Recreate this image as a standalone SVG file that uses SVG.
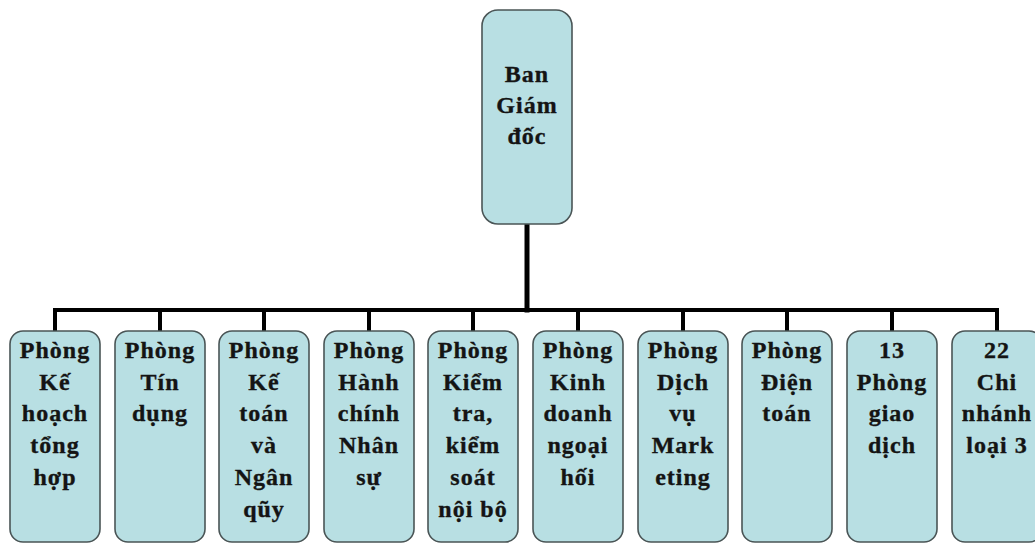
<svg xmlns="http://www.w3.org/2000/svg" width="1035" height="543" viewBox="0 0 1035 543">
  <style>
    .box { fill: #b8dfe3; stroke: #4a5556; stroke-width: 1.6; }
    .lbl { font-family: 'Liberation Serif', 'Times New Roman', serif; font-weight: 700; font-size: 24px; letter-spacing: 1px; fill: #141414; stroke: #141414; stroke-width: 0.35; text-anchor: middle; }
    .wire { stroke: #000; fill: none; stroke-linecap: square; }
  </style>
  <rect width="1035" height="543" fill="#ffffff"/>

  <!-- connectors -->
  <g id="connectors">
    <line class="wire" x1="527" y1="224" x2="527" y2="310" stroke-width="5"/>
    <line class="wire" x1="55" y1="310" x2="997" y2="310" stroke-width="4"/>
    <g stroke-width="4">
      <line class="wire" x1="55" y1="310" x2="55" y2="331"/>
      <line class="wire" x1="160" y1="310" x2="160" y2="331"/>
      <line class="wire" x1="264" y1="310" x2="264" y2="331"/>
      <line class="wire" x1="369" y1="310" x2="369" y2="331"/>
      <line class="wire" x1="473" y1="310" x2="473" y2="331"/>
      <line class="wire" x1="578" y1="310" x2="578" y2="331"/>
      <line class="wire" x1="683" y1="310" x2="683" y2="331"/>
      <line class="wire" x1="787" y1="310" x2="787" y2="331"/>
      <line class="wire" x1="892" y1="310" x2="892" y2="331"/>
      <line class="wire" x1="997" y1="310" x2="997" y2="331"/>
    </g>
  </g>

  <!-- top node -->
  <g id="ban-giam-doc">
    <rect class="box" x="482" y="10" width="90" height="214" rx="16"/>
    <text class="lbl" x="527" y="82">Ban</text>
    <text class="lbl" x="527" y="113">Giám</text>
    <text class="lbl" x="527" y="144">đốc</text>
  </g>

  <g id="ke-hoach">
    <rect class="box" x="10" y="331" width="90" height="211" rx="13"/>
    <text class="lbl" x="55" y="358">Phòng</text>
    <text class="lbl" x="55" y="390">Kế</text>
    <text class="lbl" x="55" y="421">hoạch</text>
    <text class="lbl" x="55" y="453">tổng</text>
    <text class="lbl" x="55" y="485">hợp</text>
  </g>

  <g id="tin-dung">
    <rect class="box" x="115" y="331" width="90" height="211" rx="13"/>
    <text class="lbl" x="160" y="358">Phòng</text>
    <text class="lbl" x="160" y="390">Tín</text>
    <text class="lbl" x="160" y="421">dụng</text>
  </g>

  <g id="ke-toan">
    <rect class="box" x="219" y="331" width="90" height="211" rx="13"/>
    <text class="lbl" x="264" y="358">Phòng</text>
    <text class="lbl" x="264" y="390">Kế</text>
    <text class="lbl" x="264" y="421">toán</text>
    <text class="lbl" x="264" y="453">và</text>
    <text class="lbl" x="264" y="485">Ngân</text>
    <text class="lbl" x="264" y="517">qũy</text>
  </g>

  <g id="hanh-chinh">
    <rect class="box" x="324" y="331" width="90" height="211" rx="13"/>
    <text class="lbl" x="369" y="358">Phòng</text>
    <text class="lbl" x="369" y="390">Hành</text>
    <text class="lbl" x="369" y="421">chính</text>
    <text class="lbl" x="369" y="453">Nhân</text>
    <text class="lbl" x="369" y="485">sự</text>
  </g>

  <g id="kiem-tra">
    <rect class="box" x="428" y="331" width="90" height="211" rx="13"/>
    <text class="lbl" x="473" y="358">Phòng</text>
    <text class="lbl" x="473" y="390">Kiểm</text>
    <text class="lbl" x="473" y="421">tra,</text>
    <text class="lbl" x="473" y="453">kiểm</text>
    <text class="lbl" x="473" y="485">soát</text>
    <text class="lbl" x="473" y="517">nội bộ</text>
  </g>

  <g id="kinh-doanh">
    <rect class="box" x="533" y="331" width="90" height="211" rx="13"/>
    <text class="lbl" x="578" y="358">Phòng</text>
    <text class="lbl" x="578" y="390">Kinh</text>
    <text class="lbl" x="578" y="421">doanh</text>
    <text class="lbl" x="578" y="453">ngoại</text>
    <text class="lbl" x="578" y="485">hối</text>
  </g>

  <g id="marketing">
    <rect class="box" x="638" y="331" width="90" height="211" rx="13"/>
    <text class="lbl" x="683" y="358">Phòng</text>
    <text class="lbl" x="683" y="390">Dịch</text>
    <text class="lbl" x="683" y="421">vụ</text>
    <text class="lbl" x="683" y="453">Mark</text>
    <text class="lbl" x="683" y="485">eting</text>
  </g>

  <g id="dien-toan">
    <rect class="box" x="742" y="331" width="90" height="211" rx="13"/>
    <text class="lbl" x="787" y="358">Phòng</text>
    <text class="lbl" x="787" y="390">Điện</text>
    <text class="lbl" x="787" y="421">toán</text>
  </g>

  <g id="phong-giao-dich">
    <rect class="box" x="847" y="331" width="90" height="211" rx="13"/>
    <text class="lbl" x="892" y="358">13</text>
    <text class="lbl" x="892" y="390">Phòng</text>
    <text class="lbl" x="892" y="421">giao</text>
    <text class="lbl" x="892" y="453">dịch</text>
  </g>

  <g id="chi-nhanh">
    <rect class="box" x="952" y="331" width="90" height="211" rx="13"/>
    <text class="lbl" x="997" y="358">22</text>
    <text class="lbl" x="997" y="390">Chi</text>
    <text class="lbl" x="997" y="421">nhánh</text>
    <text class="lbl" x="997" y="453">loại 3</text>
  </g>
</svg>
